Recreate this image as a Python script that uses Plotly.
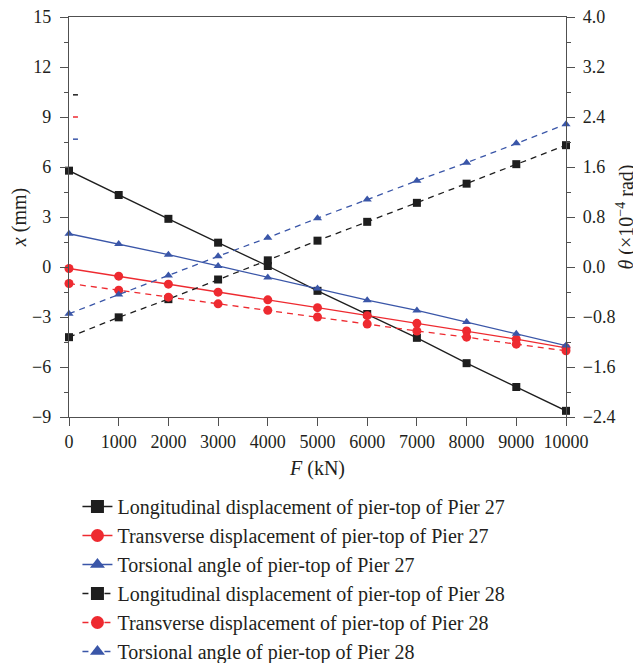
import plotly.graph_objects as go

# Data
force_kN = [0, 1000, 2000, 3000, 4000, 5000, 6000, 7000, 8000, 9000, 10000]
long_p27 = [5.78, 4.32, 2.89, 1.46, 0.06, -1.43, -2.82, -4.25, -5.77, -7.20, -8.63]
trans_p27 = [-0.09, -0.55, -1.03, -1.51, -1.97, -2.44, -2.92, -3.38, -3.84, -4.33, -4.85]
tors_p27 = [0.532, 0.367, 0.198, 0.017, -0.168, -0.343, -0.530, -0.694, -0.880, -1.066, -1.257]
long_p28 = [-4.21, -3.02, -1.93, -0.75, 0.40, 1.58, 2.71, 3.85, 5.00, 6.17, 7.31]
trans_p28 = [-0.99, -1.39, -1.81, -2.21, -2.60, -3.00, -3.42, -3.84, -4.21, -4.63, -5.03]
tors_p28 = [-0.747, -0.439, -0.137, 0.171, 0.469, 0.781, 1.079, 1.380, 1.668, 1.980, 2.284]

names = [
    "Longitudinal displacement of pier-top of Pier 27",
    "Transverse displacement of pier-top of Pier 27",
    "Torsional angle of pier-top of Pier 27",
    "Longitudinal displacement of pier-top of Pier 28",
    "Transverse displacement of pier-top of Pier 28",
    "Torsional angle of pier-top of Pier 28",
]

x_ticks = list(range(0, 10001, 1000))
y_ticks = [15, 12, 9, 6, 3, 0, -3, -6, -9]
y2_ticks = [4.0, 3.2, 2.4, 1.6, 0.8, 0.0, -0.8, -1.6, -2.4]

# small stray stub marks near the left axis (as in the original figure)
stub_y = [10.33, 9.0, 7.67]

BLACK = "#1e1e1e"
RED = "#ee2a30"
BLUE = "#3a56a8"
FONT = "Liberation Serif"
TXT = "#231f20"

series = [
    (long_p27, BLACK, "square", "solid", "y"),
    (trans_p27, RED, "circle", "solid", "y"),
    (tors_p27, BLUE, "triangle-up", "solid", "y2"),
    (long_p28, BLACK, "square", "6px,5px", "y"),
    (trans_p28, RED, "circle", "6px,5px", "y"),
    (tors_p28, BLUE, "triangle-up", "6px,5px", "y2"),
]

fig = go.Figure()
for i, (vals, col, sym, dash, ax) in enumerate(series):
    msize = 8 if sym == "square" else (9 if sym == "circle" else 8)
    fig.add_trace(go.Scatter(
        x=force_kN, y=vals, name=names[i], yaxis=ax,
        mode="lines+markers",
        line=dict(color=col, width=1.3, dash=dash),
        marker=dict(symbol=sym, size=msize, color=col),
        cliponaxis=False, showlegend=False,
    ))
# legend-only entries (larger legend symbols, as in the reference)
for i, (vals, col, sym, dash, ax) in enumerate(series):
    fig.add_trace(go.Scatter(
        x=[None], y=[None], name=names[i], yaxis=ax,
        mode="lines+markers",
        line=dict(color=col, width=1.3, dash=dash),
        marker=dict(symbol=sym, size=13, color=col),
        showlegend=True, legendgroup=f"g{i}",
    ))

stub_cols = [BLACK, RED, BLUE]
for yv, c in zip(stub_y, stub_cols):
    fig.add_shape(type="line", xref="x", yref="y", x0=80, x1=180, y0=yv, y1=yv,
                  line=dict(color=c, width=1.5))

axis_col = "#505050"
common = dict(showgrid=False, zeroline=False, showline=True, linecolor=axis_col, linewidth=1.4,
              ticks="outside", ticklen=8, tickcolor=axis_col, tickwidth=1.4, automargin=False,
              ticklabeloverflow="allow")
# the page body adds an 8px offset, so the figure is 8px smaller than the window
fig.update_layout(
    width=633, height=655,
    margin=dict(l=61, r=75, t=8.5, b=246, autoexpand=False),
    paper_bgcolor="white", plot_bgcolor="white",
    font=dict(family=FONT, size=18, color=TXT),
    showlegend=True,
    legend=dict(
        x=0.017, y=-0.175, xanchor="left", yanchor="top",
        font=dict(family=FONT, size=20, color=TXT),
        tracegroupgap=0, bgcolor="rgba(0,0,0,0)",
    ),
    xaxis=dict(
        range=[0, 10000], tickvals=x_ticks, ticktext=[str(v) for v in x_ticks],
        mirror=True, ticklabelstandoff=0,
        title=dict(text="<i>F</i> (kN)", font=dict(size=20), standoff=10),
        tickfont=dict(size=18), **common,
    ),
    yaxis=dict(
        range=[-9, 15], tickvals=y_ticks, ticktext=[str(v).replace("-", "−") for v in y_ticks],
        ticklabelstandoff=5,
        minor=dict(dtick=1.5, ticks="outside", ticklen=4, tickcolor=axis_col, tickwidth=1.4),
        title=dict(text="<i>x</i> (mm)", font=dict(size=20), standoff=4),
        tickfont=dict(size=18), **common,
    ),
    yaxis2=dict(
        range=[-2.4, 4.0], tickvals=y2_ticks,
        ticktext=[f"{v:.1f}".replace("-", "−") for v in y2_ticks],
        overlaying="y", side="right", ticklabelstandoff=4,
        minor=dict(dtick=0.4, ticks="outside", ticklen=4, tickcolor=axis_col, tickwidth=1.4),
        title=dict(text="<i>θ</i> (×10<sup>−4</sup> rad)", font=dict(size=20), standoff=4),
        tickfont=dict(size=18), **common,
    ),
)

fig.write_html("out.html")
